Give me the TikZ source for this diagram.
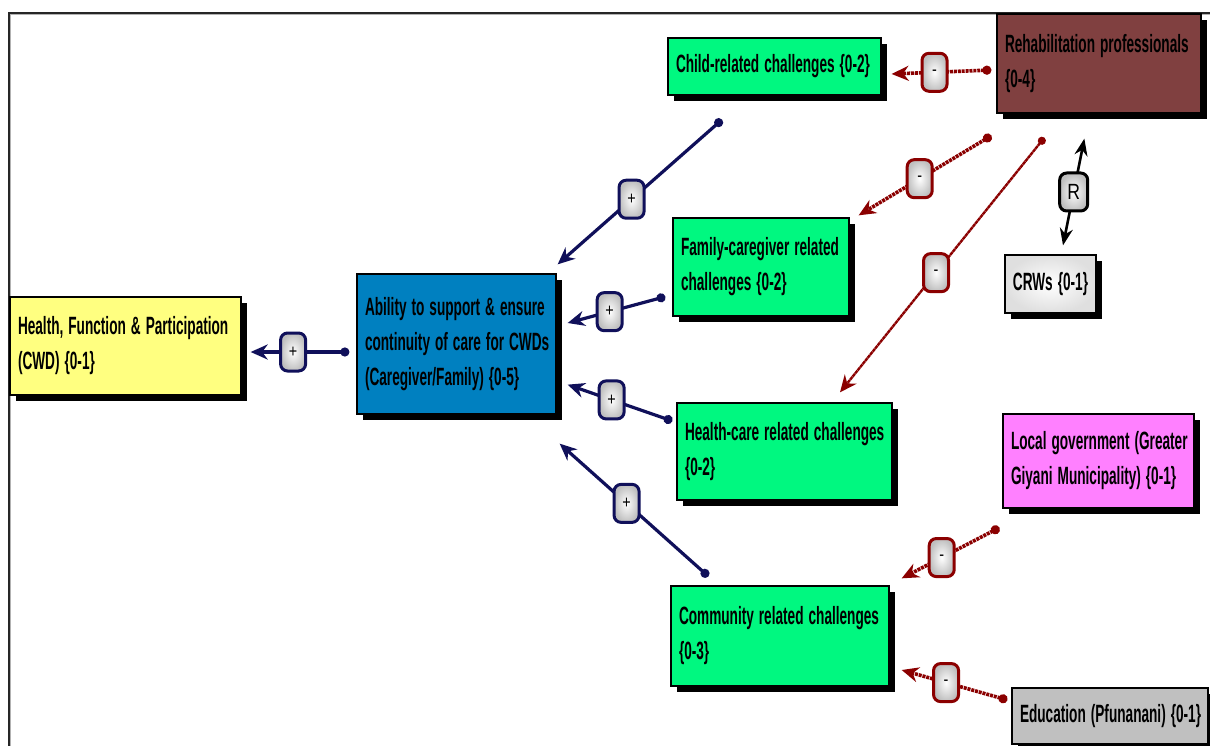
\documentclass[tikz,border=0pt]{standalone}
\usepackage{fontspec}
\setmainfont{Liberation Sans}[FakeStretch=0.545]
\newfontfamily\signfont{Liberation Sans}[FakeStretch=0.8]
\usetikzlibrary{arrows.meta,shadows,calc}

\definecolor{hfpyellow}{HTML}{FFFF80}
\definecolor{ablblue}{HTML}{0080C0}
\definecolor{chgreen}{HTML}{00F880}
\definecolor{rehabbrown}{HTML}{804040}
\definecolor{lgpink}{HTML}{FF80FF}
\definecolor{edugray}{HTML}{C0C0C0}
\definecolor{posnavy}{HTML}{10105A}
\definecolor{negred}{HTML}{8B0000}

% one unbreakable line of a factor's caption, with tight word spacing
\newlength\capspace
\setlength\capspace{5pt}
\newcommand\capline[1]{\mbox{\spaceskip=\capspace\relax #1}}

\tikzset{
  factor/.style={rectangle, draw=black, line width=1.3pt, inner sep=8pt,
    align=left, text=black,
    font=\fontsize{25}{35}\selectfont\bfseries,
    drop shadow={shadow xshift=6pt, shadow yshift=-6pt, fill=black, opacity=1}},
  posarrow/.style={draw=posnavy, line width=3.2pt,
    arrows={Circle[length=9pt]-Stealth[length=17pt,width=15pt]}},
  negarrow/.style={draw=negred, line width=3.6pt, dash pattern=on 3pt off 0.9pt,
    arrows={Circle[length=9pt]-Stealth[length=17pt,width=15pt]}},
  negthin/.style={draw=negred, line width=2.4pt, dash pattern=on 3.5pt off 0.5pt,
    arrows={Circle[length=8pt]-Stealth[length=17pt,width=15pt]}},
  signbox/.style={rectangle, rounded corners=7pt, line width=3pt, solid,
    minimum width=25pt, minimum height=38pt, inner sep=1pt,
    shading=radial, inner color=white, outer color=gray!50,
    font=\signfont\fontsize{18}{18}\selectfont, text=black},
  plus/.style={signbox, draw=posnavy},
  minus/.style={signbox, draw=negred},
  relbox/.style={signbox, draw=black, minimum width=28pt, font=\signfont\fontsize{22}{22}\selectfont},
}

\begin{document}
\begin{tikzpicture}[x=1pt,y=-1pt]
\useasboundingbox (0,0) rectangle (1210,746);
\fill[white] (0,0) rectangle (1210,746);

% page frame
\draw[gray!60, line width=2.5pt] (10,746) -- (10,14) -- (1210,14);
\draw[black!85, line width=1.2pt] (9,746) -- (9,13) -- (1210,13);

% factors
\node[factor, fill=hfpyellow, minimum width=231pt, minimum height=98pt, text width=215pt]
  (hfp) at (125.5,346) {\capline{Health, Function \& Participation}\\\capline{(CWD) \{0-1\}}};
\node[factor, fill=ablblue, minimum width=199pt, minimum height=140pt, text width=183pt]
  (abl) at (456.5,344) {\capline{Ability to support \& ensure}\\\capline{continuity of care for CWDs}\\\capline{(Caregiver/Family) \{0-5\}}};
\node[factor, fill=chgreen, minimum width=213pt, minimum height=57pt, text width=197pt]
  (child) at (774.5,66.5) {\capline{Child-related challenges \{0-2\}}};
\node[factor, fill=rehabbrown, minimum width=204pt, minimum height=99pt, text width=188pt]
  (rehab) at (1099,63.5) {\capline{Rehabilitation professionals}\\\capline{\{0-4\}}};
\node[factor, fill=chgreen, minimum width=176pt, minimum height=98pt, text width=160pt]
  (fam) at (761,267) {\capline{Family-caregiver related}\\\capline{challenges \{0-2\}}};
\node[factor, fill=white, minimum width=91pt, minimum height=58pt, align=center,
  inner sep=4pt, shading=radial, inner color=white, outer color=gray!25]
  (crw) at (1050.5,284) {\capline{CRWs \{0-1\}}};
\node[factor, fill=chgreen, minimum width=215pt, minimum height=97pt, text width=199pt]
  (hc) at (784.5,451.5) {\capline{Health-care related challenges}\\\capline{\{0-2\}}};
\node[factor, fill=lgpink, minimum width=191pt, minimum height=94pt, text width=175pt]
  (lg) at (1098.5,461) {\capline{Local government (Greater}\\\capline{Giyani Municipality) \{0-1\}}};
\node[factor, fill=chgreen, minimum width=218pt, minimum height=100pt, text width=202pt]
  (com) at (780,636) {\capline{Community related challenges}\\\capline{\{0-3\}}};
\node[factor, fill=edugray, minimum width=196pt, minimum height=56pt, text width=180pt]
  (edu) at (1110,716) {\capline{Education (Pfunanani) \{0-1\}}};

% positive links into the caregiver ability
\draw[posarrow] ($(abl.west)+(-7,8)$) -- node[plus, pos=0.57] {+} ($(hfp.east)+(9,6)$);
\draw[posarrow] ($(child.south)+(-52.5,24)$) -- node[plus, pos=0.55] {+} ($(abl.north east)+(1,-9)$);
\draw[posarrow] ($(fam.south west)+(-7,-20)$) -- node[plus, pos=0.57] {+} ($(abl.east)+(11,-21)$);
\draw[posarrow] ($(hc.west)+(-4,-30.5)$) -- node[plus, pos=0.58] {+} ($(abl.south east)+(11,-30)$);
\draw[posarrow] ($(com.north west)+(38,-9)$) -- node[plus, pos=0.55] {+} ($(abl.south east)+(3,29)$);

% negative links
\draw[negarrow] ($(rehab.west)+(-5,6.5)$) -- node[minus, pos=0.57] {-} ($(child.east)+(10,7.5)$);
\draw[negarrow] ($(rehab.south west)+(-5,22)$) -- node[minus, pos=0.54] {-} ($(fam.north east)+(9,-2)$);
\draw[negthin] ($(rehab.south west)+(48,24)$) -- node[minus, pos=0.53] {-} ($(hc.north)+(55.5,-10)$);
\draw[negarrow] ($(lg.south west)+(-3,19)$) -- node[minus, pos=0.59] {-} ($(com.north east)+(12,-7)$);
\draw[negarrow] ($(edu.west)+(-4,-16)$) -- node[minus, pos=0.58] {-} ($(com.east)+(12,34)$);

% reciprocal link between CRWs and rehabilitation professionals
\draw[black, line width=2.6pt, arrows={Stealth[length=17pt,width=13pt]-Stealth[length=17pt,width=13pt]}]
  ($(crw.north)+(12.5,-9)$) -- node[relbox, pos=0.5] {R} ($(rehab.south west)+(88,25)$);
\end{tikzpicture}
\end{document}
